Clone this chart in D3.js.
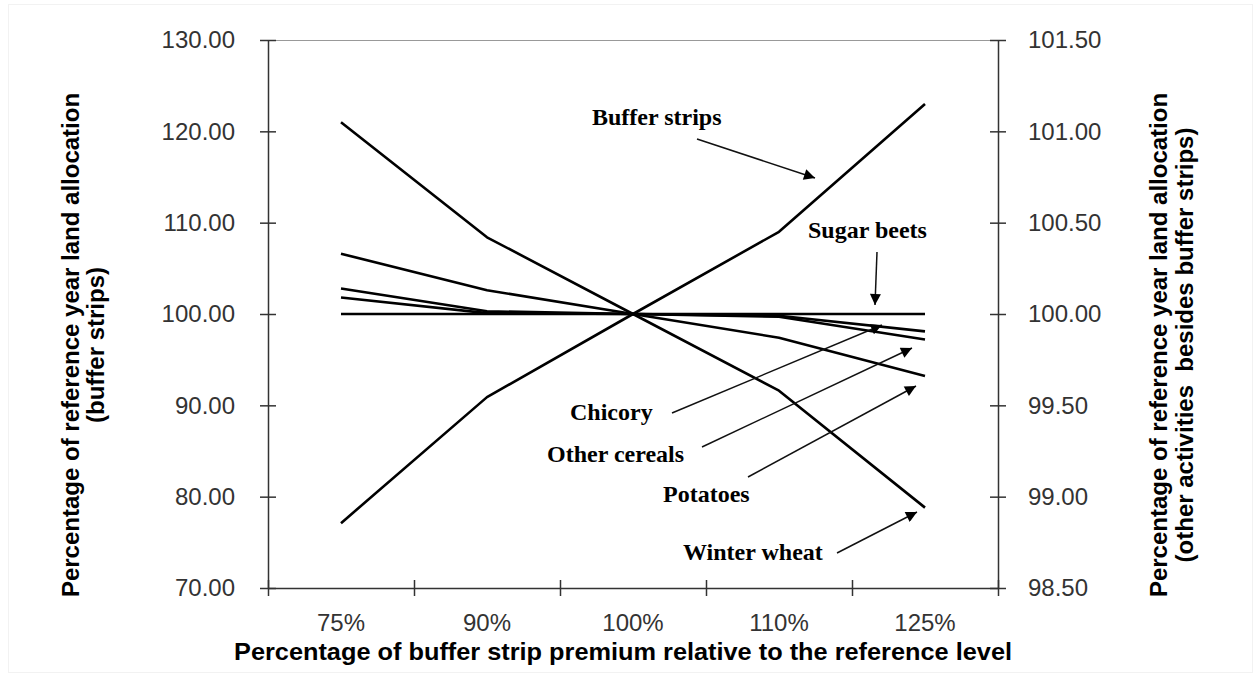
<html lang="en">
<head>
  <meta charset="UTF-8"/>
  <title>Buffer strip premium and land allocation</title>
  <script src="https://d3js.org/d3.v7.min.js"></script>
  <style>
body {
  margin: 0;
  background: #fff;
}

svg {
  display: block;
}

.axis path,
.axis line {
  stroke: #333;
  stroke-width: 1.5;
}

.axis text {
  font-family: 'Liberation Sans', Arial, sans-serif;
  font-size: 24px;
  fill: #333;
}

.series {
  fill: none;
  stroke: #000;
  stroke-width: 2.6;
  stroke-linejoin: round;
}

text.title {
  font-family: 'Liberation Sans', Arial, sans-serif;
  font-size: 24px;
  font-weight: 700;
  fill: #000;
}

text.note {
  font-family: 'Liberation Serif', 'Times New Roman', serif;
  font-size: 24px;
  font-weight: 700;
  fill: #000;
}

line.pointer {
  stroke: #111;
  stroke-width: 1.5;
}
  </style>
</head>
<body>
  <svg width="1256" height="677"></svg>

<script>
  // premium levels (x categories)
  const categories = ['75%', '90%', '100%', '110%', '125%'];

  // left axis: buffer strips
  const bufferStrips = [77.1, 90.9, 100, 109.0, 123.0];

  // right axis: other activities
  const winterWheat = [101.05, 100.42, 100, 99.58, 98.94];
  const potatoes = [100.33, 100.13, 100, 99.87, 99.66];
  const otherCereals = [100.14, 100.015, 100, 99.985, 99.86];
  const chicory = [100.09, 100.005, 100, 99.99, 99.905];
  const sugarBeets = [100, 100, 100, 100, 100];

  const leftTicks = [70, 80, 90, 100, 110, 120, 130];
  const rightTicks = [98.5, 99, 99.5, 100, 100.5, 101, 101.5];

  const margin = { top: 40, left: 268 };
  const width = 730;
  const height = 548;

  const svg = d3.select('svg');

  // faint frame of the figure
  svg.append('rect')
    .attr('x', 8.5).attr('y', 4.5)
    .attr('width', 1244).attr('height', 668)
    .attr('fill', 'none')
    .attr('stroke', '#f2f2f2');

  const chart = svg.append('g')
    .attr('transform', `translate(${margin.left}, ${margin.top})`);

  const xScale = d3.scaleBand()
    .domain(categories)
    .range([0, width])
    .padding(0);

  // band edges for the tick marks
  const xEdges = d3.scaleLinear()
    .domain([0, categories.length])
    .range([0, width]);

  const yLeft = d3.scaleLinear()
    .domain([70, 130])
    .range([height, 0]);

  const yRight = d3.scaleLinear()
    .domain([98.5, 101.5])
    .range([height, 0]);

  // top border
  chart.append('line')
    .attr('x1', 0).attr('x2', width)
    .attr('y1', 0.5).attr('y2', 0.5)
    .attr('stroke', '#999')
    .attr('stroke-width', 1.2);

  // left axis
  const leftAxis = chart.append('g')
    .attr('class', 'axis')
    .call(d3.axisLeft(yLeft)
      .tickValues(leftTicks)
      .tickFormat(d3.format('.2f'))
      .tickSize(8)
      .tickSizeOuter(0)
      .tickPadding(25));
  leftAxis.selectAll('.tick line').attr('x2', 8).attr('x1', -8);

  // right axis
  const rightAxis = chart.append('g')
    .attr('class', 'axis')
    .attr('transform', `translate(${width}, 0)`)
    .call(d3.axisRight(yRight)
      .tickValues(rightTicks)
      .tickFormat(d3.format('.2f'))
      .tickSize(8)
      .tickSizeOuter(0)
      .tickPadding(22));
  rightAxis.selectAll('.tick line').attr('x1', -8).attr('x2', 8);

  // bottom axis: marks at band edges
  const bottomMarks = chart.append('g')
    .attr('class', 'axis')
    .attr('transform', `translate(0, ${height})`)
    .call(d3.axisBottom(xEdges)
      .ticks(categories.length)
      .tickFormat('')
      .tickSize(8)
      .tickSizeOuter(0));
  bottomMarks.selectAll('.tick line').attr('y1', -8).attr('y2', 8);

  // bottom axis: labels at band centres
  const bottomLabels = chart.append('g')
    .attr('class', 'axis')
    .attr('transform', `translate(0, ${height})`)
    .call(d3.axisBottom(xScale)
      .tickSize(0)
      .tickPadding(26));
  bottomLabels.select('.domain').remove();

  // series
  const xPos = (d, i) => xScale(categories[i]) + xScale.bandwidth() / 2;

  const leftLine = d3.line().x(xPos).y((d) => yLeft(d));
  const rightLine = d3.line().x(xPos).y((d) => yRight(d));

  chart.append('path').attr('class', 'series').attr('d', rightLine(sugarBeets));
  chart.append('path').attr('class', 'series').attr('d', rightLine(chicory));
  chart.append('path').attr('class', 'series').attr('d', rightLine(otherCereals));
  chart.append('path').attr('class', 'series').attr('d', rightLine(potatoes));
  chart.append('path').attr('class', 'series').attr('d', rightLine(winterWheat));
  chart.append('path').attr('class', 'series').attr('d', leftLine(bufferStrips));

  // annotations
  svg.append('defs').append('marker')
    .attr('id', 'head')
    .attr('viewBox', '0 0 10 10')
    .attr('refX', 10).attr('refY', 5)
    .attr('markerWidth', 14).attr('markerHeight', 11)
    .attr('markerUnits', 'userSpaceOnUse')
    .attr('orient', 'auto')
    .append('path')
    .attr('d', 'M0,0 L10,5 L0,10 Z')
    .attr('fill', '#000');

  const notes = [
    { text: 'Buffer strips', x: 592, y: 125, from: [697, 139], to: [815, 178] },
    { text: 'Sugar beets', x: 808, y: 238, from: [877, 252], to: [875, 305] },
    { text: 'Chicory', x: 570, y: 420, from: [672, 413], to: [882, 325] },
    { text: 'Other cereals', x: 547, y: 462, from: [702, 447], to: [912, 348] },
    { text: 'Potatoes', x: 663, y: 502, from: [748, 477], to: [916, 386] },
    { text: 'Winter wheat', x: 683, y: 560, from: [837, 553], to: [917, 512] }
  ];

  svg.selectAll('text.note')
    .data(notes)
    .enter()
    .append('text')
    .attr('class', 'note')
    .attr('x', (d) => d.x)
    .attr('y', (d) => d.y)
    .text((d) => d.text);

  svg.selectAll('line.pointer')
    .data(notes)
    .enter()
    .append('line')
    .attr('class', 'pointer')
    .attr('x1', (d) => d.from[0])
    .attr('y1', (d) => d.from[1])
    .attr('x2', (d) => d.to[0])
    .attr('y2', (d) => d.to[1])
    .attr('marker-end', 'url(#head)');

  // axis titles
  svg.append('text')
    .attr('class', 'title')
    .attr('x', 623)
    .attr('y', 660)
    .attr('text-anchor', 'middle')
    .attr('textLength', 778)
    .attr('lengthAdjust', 'spacingAndGlyphs')
    .text('Percentage of buffer strip premium relative to the reference level');

  const leftTitle = svg.append('text')
    .attr('class', 'title')
    .attr('text-anchor', 'middle')
    .attr('transform', 'translate(79, 345) rotate(-90)');
  leftTitle.append('tspan').attr('x', 0).attr('y', 0)
    .text('Percentage of reference year land allocation');
  leftTitle.append('tspan').attr('x', 0).attr('y', 25)
    .text('(buffer strips)');

  const rightTitle = svg.append('text')
    .attr('class', 'title')
    .attr('text-anchor', 'middle')
    .attr('transform', 'translate(1167, 345) rotate(-90)');
  rightTitle.append('tspan').attr('x', 0).attr('y', 0)
    .text('Percentage of reference year land allocation');
  rightTitle.append('tspan').attr('x', 0).attr('y', 26)
    .attr('xml:space', 'preserve')
    .text('(other activities  besides buffer strips)');
</script>
</body>
</html>
